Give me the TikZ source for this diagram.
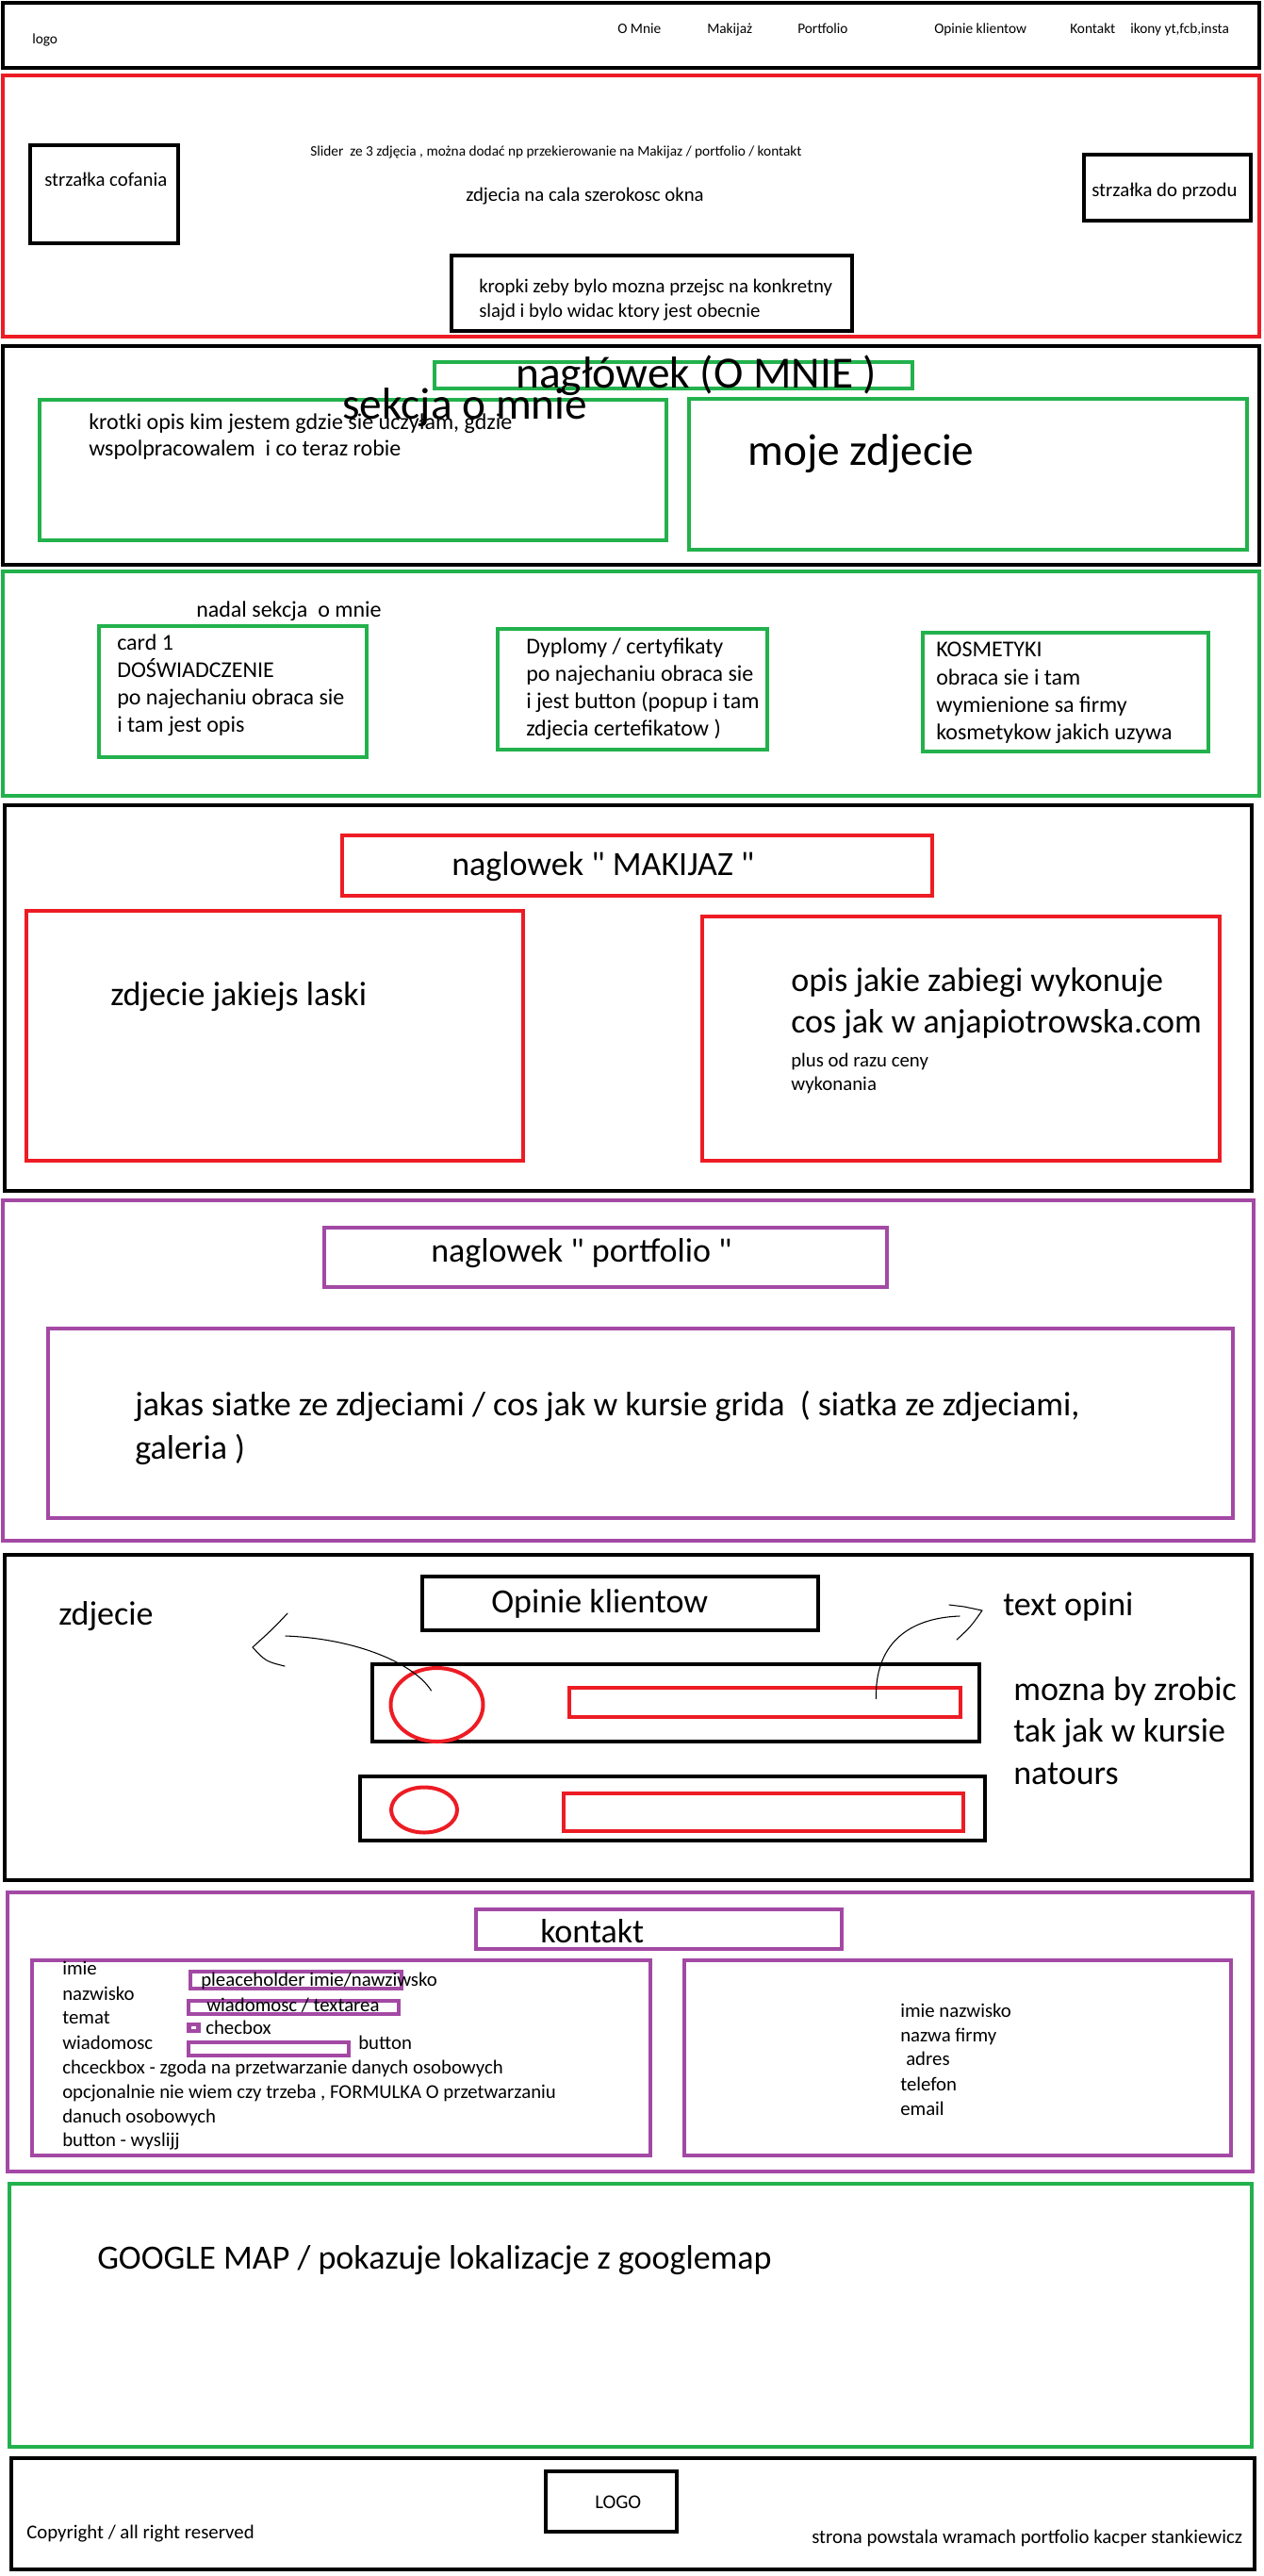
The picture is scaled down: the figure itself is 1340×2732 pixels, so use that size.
\documentclass[tikz,border=0pt]{standalone}
\usepackage{fontspec}
\setmainfont{Carlito}[Ligatures=TeXOff]
\usepackage{tikz}
\usetikzlibrary{shapes.geometric}
\definecolor{pred}{RGB}{237,28,36}
\definecolor{pgreen}{RGB}{34,177,76}
\definecolor{ppurple}{RGB}{163,73,164}

\begin{document}
\begin{tikzpicture}[line cap=rect,line join=miter,x=0.75pt,y=-0.75pt,
  kbox/.style={draw=black,line width=3.4pt},
  rbox/.style={draw=pred,line width=3pt},
  gbox/.style={draw=pgreen,line width=3pt},
  pbox/.style={draw=ppurple,line width=3pt},
  txs/.style={anchor=mid west,inner sep=0pt,yshift=-0.5pt,font=\fontsize{11.5}{14}\selectfont},
  txm/.style={anchor=mid west,inner sep=0pt,yshift=-2.5pt,font=\fontsize{15.6}{19}\selectfont},
  txb/.style={anchor=mid west,inner sep=0pt,yshift=-1.5pt,font=\fontsize{18}{22}\selectfont},
  txl/.style={anchor=mid west,inner sep=0pt,yshift=-4pt,font=\fontsize{27}{32}\selectfont},
  txh/.style={anchor=mid west,inner sep=0pt,yshift=-7pt,font=\fontsize{35.5}{42}\selectfont},
  pen/.style={draw=black,line width=0.8pt,line cap=round,line join=round}]
\path[fill=white,use as bounding box] (0,0) rectangle (1340,2732);
% naglowek strony
\draw[kbox] (3,3) rectangle (1336,72);
\node[txs] (logo) at (34,43) {logo};
\node[txs] (menuA) at (655,32) {O Mnie};
\node[txs] (menuB) at (750,32) {Makijaż};
\node[txs] (menuC) at (846,32) {Portfolio};
\node[txs] (menuD) at (991,32) {Opinie klientow};
\node[txs] (menuE) at (1135,32) {Kontakt};
\node[txs] (menuF) at (1199,32) {ikony yt,fcb,insta};
% slider
\draw[rbox] (3,80) rectangle (1336,357);
\draw[kbox] (32,154) rectangle (189,258);
\draw[kbox] (1150,164) rectangle (1327,234);
\draw[kbox] (479,271) rectangle (904,351);
\node[txs] (slider) at (329,162) {Slider\ \ ze 3 zdjęcia , można dodać np przekierowanie na Makijaz / portfolio / kontakt};
\node[txm] (szer) at (494,207) {zdjecia na cala szerokosc okna};
\node[txm] (wstecz) at (47,191) {strzałka cofania};
\node[txm] (dalej) at (1158,202) {strzałka do przodu};
\node[txm] (kropkiA) at (508,304) {kropki zeby bylo mozna przejsc na konkretny};
\node[txm] (kropkiB) at (508,330) {slajd i bylo widac ktory jest obecnie};
% o mnie
\draw[kbox] (3,367) rectangle (1336,599);
\draw[gbox] (461,384) rectangle (968,412);
\draw[gbox] (42,424) rectangle (707,573);
\draw[gbox] (731,423) rectangle (1323,583);
\node[txh] (omnie) at (547,399) {nagłówek (O MNIE )};
\node[txh] (sekcja) at (363,432) {sekcja o mnie};
\node[txb] (opisA) at (94,450) {krotki opis kim jestem gdzie sie uczyłam, gdzie};
\node[txb] (opisB) at (94,478) {wspolpracowalem\ \ i co teraz robie};
\node[txh] (mojefoto) at (793,481) {moje zdjecie};
% karty
\draw[gbox] (3,606) rectangle (1336,844);
\draw[gbox] (105,664) rectangle (389,803);
\draw[gbox] (528,667) rectangle (814,795);
\draw[gbox] (979,671) rectangle (1282,797);
\node[txb] (nadal) at (208,649) {nadal sekcja\ \ o mnie};
\node[txb] (cardA1) at (124,684) {card 1};
\node[txb] (cardA2) at (124,713) {DOŚWIADCZENIE};
\node[txb] (cardA3) at (124,742) {po najechaniu obraca sie};
\node[txb] (cardA4) at (124,771) {i tam jest opis};
\node[txb] (cardB1) at (558,688) {Dyplomy / certyfikaty};
\node[txb] (cardB2) at (558,717) {po najechaniu obraca sie};
\node[txb] (cardB3) at (558,746) {i jest button (popup i tam};
\node[txb] (cardB4) at (558,775) {zdjecia certefikatow )};
\node[txb] (cardC1) at (993,691) {KOSMETYKI};
\node[txb] (cardC2) at (993,721) {obraca sie i tam};
\node[txb] (cardC3) at (993,750) {wymienione sa firmy};
\node[txb] (cardC4) at (993,779) {kosmetykow jakich uzywa};
% makijaz
\draw[kbox] (5,854) rectangle (1328,1263);
\draw[rbox] (363,886) rectangle (989,950);
\draw[rbox] (28,966) rectangle (555,1231);
\draw[rbox] (745,972) rectangle (1294,1231);
\node[txl] (makijaz) at (479,920) {naglowek " MAKIJAZ "};
\node[txl] (laska) at (117,1058) {zdjecie jakiejs laski};
\node[txl] (zabiegA) at (839,1043) {opis jakie zabiegi wykonuje};
\node[txl] (zabiegB) at (839,1087) {cos jak w anjapiotrowska.com};
\node[txm] (cenyA) at (839,1125) {plus od razu ceny};
\node[txm] (cenyB) at (839,1150) {wykonania};
% portfolio
\draw[pbox] (3,1273) rectangle (1330,1634);
\draw[pbox] (344,1302) rectangle (941,1365);
\draw[pbox] (51,1409) rectangle (1308,1610);
\node[txl] (portfolio) at (457,1330) {naglowek " portfolio "};
\node[txl] (siatkaA) at (143,1493) {jakas siatke ze zdjeciami / cos jak w kursie grida\ \ ( siatka ze zdjeciami,};
\node[txl] (siatkaB) at (143,1539) {galeria )};
% opinie
\draw[kbox] (5,1649) rectangle (1328,1994);
\draw[kbox] (448,1672) rectangle (868,1729);
\draw[kbox] (395,1765) rectangle (1039,1847);
\draw[kbox] (382,1884) rectangle (1045,1952);
\node[ellipse,draw=pred,line width=3pt,inner sep=0pt,minimum width=73.5pt,minimum height=58.5pt] (fotoA) at (463.5,1808) {};
\node[ellipse,draw=pred,line width=3pt,inner sep=0pt,minimum width=52.5pt,minimum height=36pt] (fotoB) at (450,1919.5) {};
\node[rbox,inner sep=0pt,minimum width=311.25pt,minimum height=23.25pt] (tekstA) at (811.5,1805.5) {};
\node[rbox,inner sep=0pt,minimum width=318pt,minimum height=30pt] (tekstB) at (810,1922) {};
\node[txl] (opinie) at (521,1702) {Opinie klientow};
\node[txl] (zdjecie) at (62,1715) {zdjecie};
\node[txl] (textopini) at (1064,1705) {text opini};
\node[txl] (natoursA) at (1075,1795) {mozna by zrobic};
\node[txl] (natoursB) at (1075,1839) {tak jak w kursie};
\node[txl] (natoursC) at (1075,1884) {natours};
\coordinate (zdjtip) at (268,1747);
\coordinate (opitip) at (1042,1708);
\draw[pen] (fotoA.center) ++(-6,-15) .. controls (440,1765) and (380,1738) .. (303,1735);
\draw[pen] (zdjtip) ++(37,-36) .. controls (290,1727) .. (zdjtip) .. controls (282,1762) .. (302,1767);
\draw[pen] (tekstA.center) ++(118,-4) .. controls (928,1745) and (962,1716) .. (1018,1714);
\draw[pen] (1007,1702) -- (1023,1704) -- (opitip) .. controls (1030,1725) .. (1015,1739);
% kontakt
\draw[pbox] (8,2007) rectangle (1329,2303);
\draw[pbox] (505,2025) rectangle (893,2067);
\draw[pbox] (34,2079) rectangle (690,2286);
\draw[pbox] (726,2079) rectangle (1306,2286);
\draw[pbox] (202,2091) rectangle (426,2109);
\draw[pbox] (200,2122) rectangle (423,2136);
\draw[pbox] (200,2166) rectangle (370,2180);
\fill[ppurple] (198,2145) rectangle (213,2156);
\fill[white] (203,2149) rectangle (208,2152);
\node[txl] (kontakt) at (573,2052) {kontakt};
\node[txm] (formA) at (66,2088) {imie};
\node[txm] (formB) at (66,2115) {nazwisko};
\node[txm] (formC) at (66,2140) {temat};
\node[txm] (formD) at (66,2167) {wiadomosc};
\node[txm] (formE) at (66,2193) {chceckbox - zgoda na przetwarzanie danych osobowych};
\node[txm] (formF) at (66,2219) {opcjonalnie nie wiem czy trzeba , FORMULKA O przetwarzaniu};
\node[txm] (formG) at (66,2245) {danuch osobowych};
\node[txm] (formH) at (66,2270) {button - wyslijj};
\node[txm] (pole) at (213,2100) {pleaceholder imie/nawziwsko};
\node[txm] (area) at (219,2127) {wiadomosc / textarea};
\node[txm] (check) at (218,2151) {checbox};
\node[txm] (button) at (380,2167) {button};
\node[txm] (daneA) at (955,2133) {imie nazwisko};
\node[txm] (daneB) at (955,2159) {nazwa firmy};
\node[txm] (daneC) at (961,2184) {adres};
\node[txm] (daneD) at (955,2211) {telefon};
\node[txm] (daneE) at (955,2237) {email};
% mapa
\draw[gbox] (10,2316) rectangle (1328,2595);
\node[txl] (mapa) at (103,2398) {GOOGLE MAP / pokazuje lokalizacje z googlemap};
% stopka
\draw[kbox] (12,2607) rectangle (1331,2725);
\draw[kbox] (579,2621) rectangle (718,2685);
\node[txm] (logoB) at (631,2654) {LOGO};
\node[txm] (copy) at (28,2686) {Copyright / all right reserved};
\node[txm] (autor) at (861,2691) {strona powstala wramach portfolio kacper stankiewicz};
\end{tikzpicture}
\end{document}
